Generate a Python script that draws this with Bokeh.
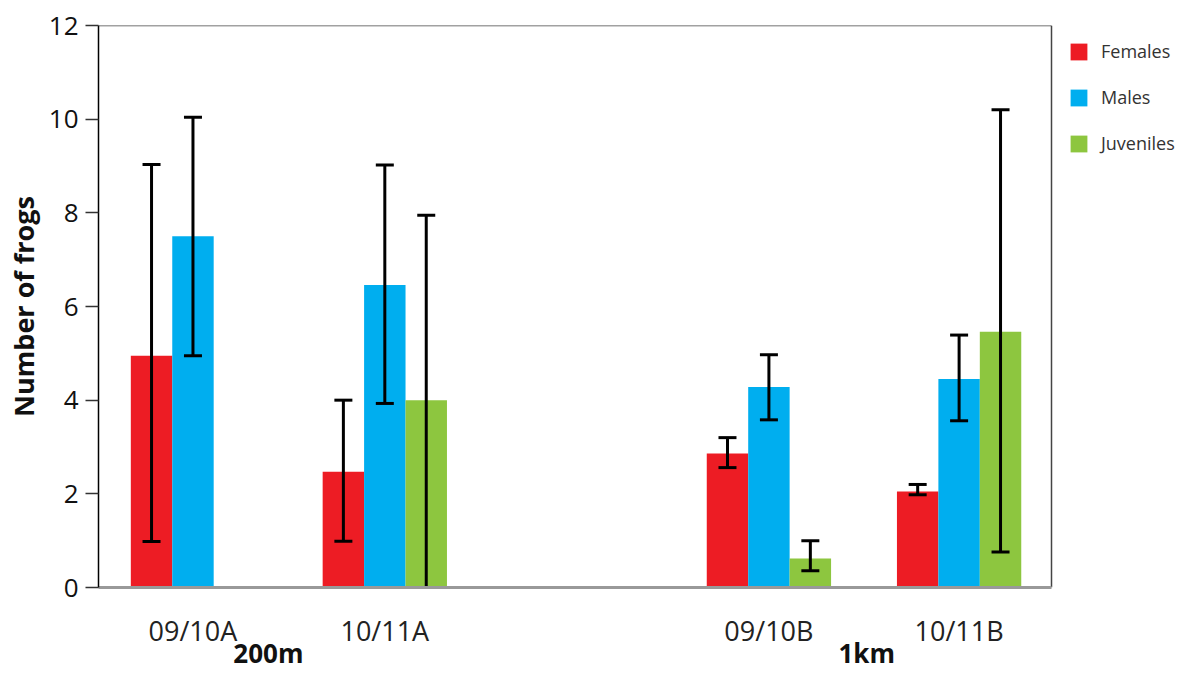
import math
from bokeh.plotting import figure
from bokeh.models import Range1d, FixedTicker, LinearAxis, Legend, LegendItem
from bokeh.embed import file_html
from bokeh.resources import INLINE

# ---- data ----
groups = ["09/10A", "10/11A", "09/10B", "10/11B"]
group_x = [2.28, 6.91, 16.18, 20.77]
regions = ["200m", "1km"]
region_x = [4.10, 18.54]
series = ["Females", "Males", "Juveniles"]
colors = ["#ED1C24", "#00AEEF", "#8DC63F"]
offsets = [-1.0, 0.0, 1.0]

females = [4.95, 2.47, 2.86, 2.05]
females_lo = [0.98, 0.99, 2.56, 1.98]
females_hi = [9.03, 4.0, 3.2, 2.2]
males = [7.5, 6.46, 4.28, 4.45]
males_lo = [4.95, 3.93, 3.58, 3.56]
males_hi = [10.04, 9.02, 4.97, 5.39]
juveniles = [float("nan"), 4.0, 0.62, 5.46]
juveniles_lo = [float("nan"), 0.0, 0.36, 0.76]
juveniles_hi = [float("nan"), 7.95, 1.0, 10.2]

y_ticks = [0, 2, 4, 6, 8, 10, 12]

vals = [females, males, juveniles]
los = [females_lo, males_lo, juveniles_lo]
his = [females_hi, males_hi, juveniles_hi]

FONT = "Open Sans"

X_MIN, X_MAX = 0.0, 23.0          # plotted box
Y_MIN, Y_MAX = 0.0, 12.0
W, H = 1176, 677
LEFT, TOP, BOTTOM = 98, 25, 90
box_px = 953.0
x_end = X_MAX * (W - LEFT) / box_px   # extend range so legend fits inside frame

p = figure(width=W, height=H, output_backend="svg", toolbar_location=None,
           x_range=Range1d(X_MIN, x_end), y_range=Range1d(Y_MIN, Y_MAX),
           min_border_left=LEFT, min_border_right=0, min_border_top=TOP,
           min_border_bottom=BOTTOM, x_axis_type=None)
p.xgrid.visible = False
p.ygrid.visible = False
p.outline_line_color = None
p.background_fill_color = "white"
p.border_fill_color = "white"

# box top and right edges
p.segment(x0=[X_MIN, X_MAX], y0=[Y_MAX, Y_MIN], x1=[X_MAX, X_MAX], y1=[Y_MAX, Y_MAX],
          line_color="#444444", line_width=1.5)

items = []
for s, col, off, v in zip(series, colors, offsets, vals):
    xs = [g + off for g, val in zip(group_x, v) if not math.isnan(val)]
    ys = [val for val in v if not math.isnan(val)]
    r = p.vbar(x=xs, top=ys, bottom=0, width=1.0, fill_color=col, line_color=None)
    items.append(LegendItem(label=s, renderers=[r]))

for off, v, lo, hi in zip(offsets, vals, los, his):
    xs, y0, y1 = [], [], []
    cx, cy = [], []
    for g, val, l, h in zip(group_x, v, lo, hi):
        if math.isnan(val):
            continue
        xs.append(g + off); y0.append(l); y1.append(h)
        cx.append(g + off); cy.append(h)
        if l > 0:
            cx.append(g + off); cy.append(l)
    p.segment(x0=xs, y0=y0, x1=xs, y1=y1, line_color="black", line_width=3)
    p.scatter(x=cx, y=cy, marker="dash", size=18, line_color="black", line_width=3)

# y axis
ya = p.yaxis[0]
ya.ticker = FixedTicker(ticks=y_ticks)
ya.axis_line_color = "black"
ya.axis_line_width = 1.5
ya.major_tick_line_color = "#333333"
ya.major_tick_line_width = 1.5
ya.major_tick_out = 13
ya.major_tick_in = 0
ya.minor_tick_line_color = None
ya.major_label_standoff = 7
ya.major_label_text_font = FONT
ya.major_label_text_font_size = "26px"
ya.major_label_text_color = "#111111"
ya.axis_label = "Number of frogs"
ya.axis_label_text_font = FONT
ya.axis_label_text_font_style = "bold"
ya.axis_label_text_font_size = "27px"
ya.axis_label_text_color = "#111111"
ya.axis_label_standoff = 4

# x axis with group labels
xa = LinearAxis(ticker=FixedTicker(ticks=group_x), bounds=(X_MIN, X_MAX),
                major_label_overrides={gx: g for gx, g in zip(group_x, groups)})
xa.axis_line_color = "#999999"
xa.axis_line_width = 3
xa.major_tick_line_color = None
xa.minor_tick_line_color = None
xa.major_tick_out = 0
xa.major_tick_in = 0
xa.major_label_standoff = 24
xa.major_label_text_font = FONT
xa.major_label_text_font_size = "27px"
xa.major_label_text_color = "#222222"
p.add_layout(xa, "below")

ra = LinearAxis(ticker=FixedTicker(ticks=region_x),
                major_label_overrides={rx: r for rx, r in zip(region_x, regions)})
ra.axis_line_color = None
ra.major_tick_line_color = None
ra.minor_tick_line_color = None
ra.major_tick_out = 0
ra.major_tick_in = 0
ra.major_label_standoff = -17
ra.major_label_text_line_height = 0.6
ra.major_label_text_font = FONT
ra.major_label_text_font_style = "bold"
ra.major_label_text_font_size = "26px"
ra.major_label_text_color = "#111111"
p.add_layout(ra, "below")

legend = Legend(items=items, location=(970, 432), orientation="vertical",
                glyph_width=21, glyph_height=21, label_height=21, spacing=22,
                padding=0, margin=0, label_standoff=12,
                label_text_font=FONT, label_text_font_size="18px",
                label_text_color="#333333", border_line_color=None,
                background_fill_alpha=0)
p.add_layout(legend)

open("out.html", "w").write(file_html(p, INLINE))
